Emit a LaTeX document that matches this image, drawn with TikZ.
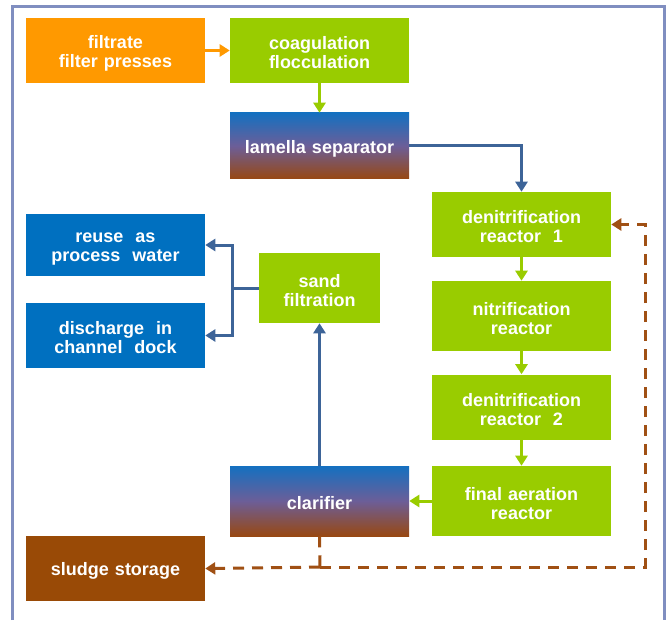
\documentclass[tikz,border=0pt]{standalone}
\usepackage{fontspec}
\setmainfont{Liberation Sans}
\usetikzlibrary{arrows.meta}
\definecolor{orangebox}{RGB}{255,153,0}
\definecolor{greenbox}{RGB}{153,204,0}
\definecolor{bluebox}{RGB}{0,112,192}
\definecolor{brownbox}{RGB}{153,74,6}
\definecolor{gradtop}{RGB}{20,112,192}
\definecolor{gradmid}{RGB}{108,94,152}
\definecolor{gradbot}{RGB}{152,72,18}
\definecolor{blueline}{RGB}{61,100,152}
\definecolor{brownline}{RGB}{160,80,20}
\definecolor{framecol}{RGB}{128,142,192}

\begin{document}
\begin{tikzpicture}[x=0.75pt, y=-0.75pt,
  box/.style={shape=rectangle, inner sep=0pt, text width=130pt, align=center, text=white,
    minimum width=134.25pt, minimum height=48.75pt,
    font=\bfseries\fontsize{13.5}{14.25}\selectfont,
    execute at begin node={\rule{0pt}{13.5pt}}},
  tall/.style={minimum height=52.5pt},
  gradbox/.style={box, top color=gradtop, bottom color=gradbot, middle color=gradmid, tall},
  tip/.style={-{Triangle[length=7.5pt, width=9pt]}},
  greenarrow/.style={tip, draw=greenbox, line width=2.25pt},
  bluearrow/.style={tip, draw=blueline, line width=2.25pt},
  dashline/.style={draw=brownline, line width=2.25pt, dash pattern=on 8.25pt off 6pt}]
  \useasboundingbox (0,0) rectangle (666,620);
  \draw[framecol, line width=2.25pt] (12.5,620) -- (12.5,7) -- (664.5,7) -- (664.5,620);
  \node (filtrate) at (115.5, 50.5) [box, fill=orangebox] {filtrate\\filter presses};
  \node (coag) at (319.5, 50.5) [box, fill=greenbox] {coagulation\\flocculation};
  \node (lamella) at (319.5, 146) [gradbox, minimum height=49.5pt] {lamella separator};
  \node (denit1) at (521.5, 224.5) [box, fill=greenbox] {denitrification\\reactor\ \ 1};
  \node (nitr) at (521.5, 316) [box, tall, fill=greenbox] {nitrification\\reactor};
  \node (denit2) at (521.5, 407) [box, fill=greenbox] {denitrification\\reactor\ \ 2};
  \node (final) at (521.5, 501) [box, tall, fill=greenbox] {final aeration\\reactor};
  \node (clarifier) at (319.5, 501) [gradbox] {clarifier};
  \node (sand) at (319.5, 288) [box, tall, text width=88pt, minimum width=90.75pt, fill=greenbox] {sand\\filtration};
  \node (reuse) at (115.5, 245) [box, minimum height=46.5pt, fill=bluebox] {reuse\ \ as\\process\ \ water};
  \node (discharge) at (115.5, 335.5) [box, fill=bluebox] {discharge\ \ in\\channel\ \ dock};
  \node (sludge) at (115.5, 568.5) [box, fill=brownbox] {sludge storage};
  \coordinate (split) at (232, 288);
  \coordinate (sjoin) at (320, 567);
  \coordinate (back) at (645, 224.5);
  \draw[tip, draw=orangebox, line width=2.25pt] (filtrate) -- (coag);
  \draw[greenarrow] (coag) -- (lamella);
  \draw[bluearrow] (lamella.east) -| (denit1.north);
  \draw[greenarrow] (denit1) -- (nitr);
  \draw[greenarrow] (nitr) -- (denit2);
  \draw[greenarrow] (denit2) -- (final);
  \draw[greenarrow] (final) -- (clarifier);
  \draw[bluearrow] (clarifier) -- (sand);
  \draw[blueline, line width=2.25pt] (sand.west) -- (split);
  \draw[bluearrow] (split) |- (reuse.east);
  \draw[bluearrow] (split) |- (discharge.east);
  \draw[dashline] (clarifier.south) -- (sjoin);
  \draw[dashline, tip] (sjoin) -- (sludge.east);
  \draw[dashline, tip] (sjoin) -| (back) -- (denit1.east);
\end{tikzpicture}
\end{document}
